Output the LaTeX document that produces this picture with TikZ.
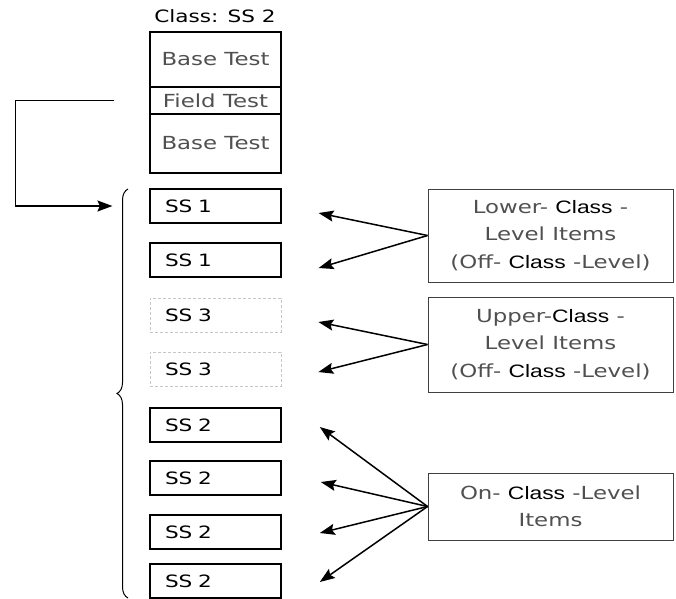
\documentclass[tikz,border=0pt]{standalone}
\usepackage{fontspec}
\setmainfont[FakeStretch=1.27]{DejaVu Sans}
\newfontfamily\classfont[FakeStretch=1.27]{Liberation Sans}
\usepackage{xcolor}
\usetikzlibrary{arrows.meta,decorations.pathreplacing}
\definecolor{txtgray}{RGB}{80,80,80}
\newcommand{\clsword}{{\classfont\color{black}Class}}

\begin{document}
\begin{tikzpicture}[x=1pt,y=-1pt,
    testbox/.style={draw=black, line width=1.4pt, minimum width=131pt, inner sep=0pt,
        text=txtgray, font=\fontsize{18}{22}\selectfont},
    ssbox/.style={draw=black, line width=1.2pt, minimum width=131pt, minimum height=34pt,
        text width=101pt, inner xsep=15pt, inner ysep=0pt, align=left,
        font=\fontsize{17}{20}\selectfont},
    ssthree/.style={ssbox, draw=gray!45, line width=0.8pt, densely dashed},
    sstwo/.style={ssbox, line width=1.6pt},
    itembox/.style={draw=black!75, line width=0.9pt, minimum width=245pt, align=center,
        text=txtgray, font=\fontsize{18}{27.5}\selectfont},
    arr/.style={-{Stealth[length=15pt,width=11pt,inset=2.5pt]}, line width=1.5pt}]
    \useasboundingbox (0,0) rectangle (676,598);
    % test form of the class
    \node[font=\fontsize{17}{20}\selectfont] (title) at (215,16) {Class: SS 2};
    \node[testbox, minimum height=55pt] (base1) at (215.5,59.5) {\raisebox{-3pt}{Base Test}};
    \node[testbox, minimum height=27pt] (field) at (215.5,100.5) {\raisebox{-2pt}{Field Test}};
    \node[testbox, minimum height=59pt] (base2) at (215.5,143.5) {Base Test};
    % field test slots
    \node[ssbox] (s1) at (215.5,206) {SS 1};
    \node[ssbox] (s2) at (215.5,260) {SS 1};
    \node[ssthree] (s3) at (215.5,315) {SS 3};
    \node[ssthree] (s4) at (215.5,369) {SS 3};
    \node[sstwo] (s5) at (215.5,425) {SS 2};
    \node[sstwo] (s6) at (215.5,478) {SS 2};
    \node[sstwo] (s7) at (215.5,532) {SS 2};
    \node[sstwo] (s8) at (215.5,581) {SS 2};
    \draw[decorate, decoration={brace, amplitude=11pt}, line width=1pt] (128,598) -- (128,189);
    \draw[arr] ([xshift=-35pt]field.west) -- ++(-99,0) |- ([xshift=-37pt]s1.west);
    % item groups
    \node[itembox, minimum height=93pt] (lower) at (550.5,235.5)
        {Lower- \clsword\ -\\Level Items\\(Off- \clsword\ -Level)};
    \node[itembox, minimum height=95pt] (upper) at (550.5,344.5)
        {Upper-\clsword\ -\\Level Items\\(Off- \clsword\ -Level)};
    \node[itembox, minimum height=67pt, font=\fontsize{18}{26.5}\selectfont] (on) at (550.5,506.5)
        {On- \clsword\ -Level\\Items};
    \draw[arr] (lower.west) -- ([shift={(37pt,-7pt)}]s1.east);
    \draw[arr] (lower.west) -- ([shift={(37pt,-8pt)}]s2.east);
    \draw[arr] (upper.west) -- ([shift={(37pt,-7pt)}]s3.east);
    \draw[arr] (upper.west) -- ([shift={(37pt,-3pt)}]s4.east);
    \draw[arr] (on.west) -- ([shift={(38pt,-2pt)}]s5.east);
    \draw[arr] (on.west) -- ([shift={(39pt,-4pt)}]s6.east);
    \draw[arr] (on.west) -- ([shift={(38pt,-1pt)}]s7.east);
    \draw[arr] (on.west) -- ([shift={(38pt,-1pt)}]s8.east);
\end{tikzpicture}
\end{document}
